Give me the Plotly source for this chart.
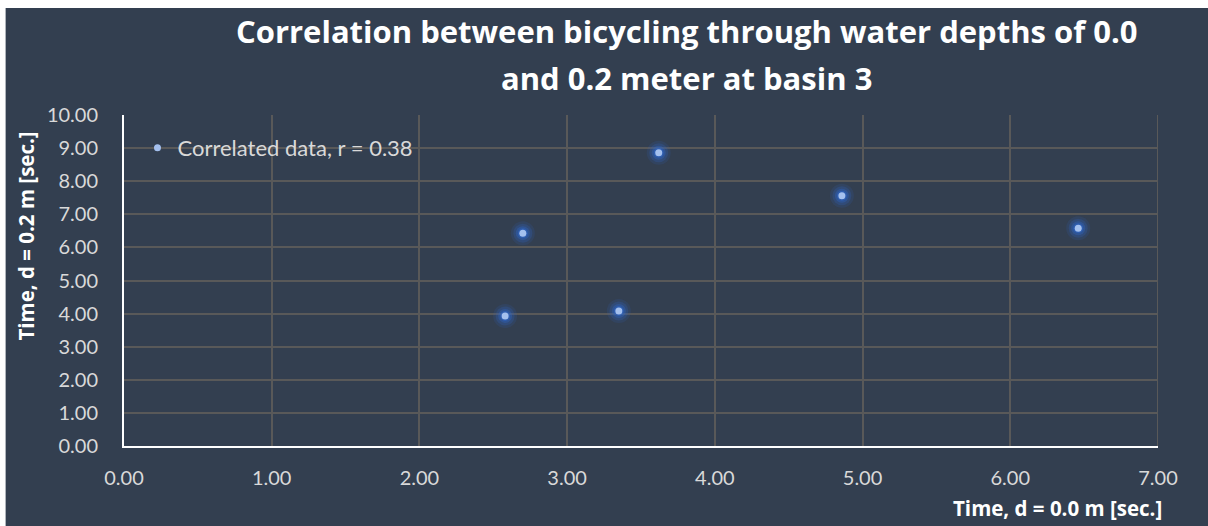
import plotly.graph_objects as go

# Ride times through basin 3 at the two water depths (seconds)
time_d00 = [2.58, 2.70, 3.35, 3.62, 4.86, 6.46]
time_d02 = [3.93, 6.43, 4.08, 8.86, 7.56, 6.58]
series_name = "Correlated data, r = 0.38"

x_ticks = [0, 1, 2, 3, 4, 5, 6, 7]
y_ticks = [0, 1, 2, 3, 4, 5, 6, 7, 8, 9, 10]

title_lines = [
    "Correlation between bicycling through water depths of 0.0",
    "and 0.2 meter at basin 3",
]

W_PX, H_PX = 1208, 526
M_L, M_R, M_T, M_B = 123.5, 49.5, 115, 80
PW = W_PX - M_L - M_R
PH = H_PX - M_T - M_B

BG = "#333F50"
GRID = "#595959"
TICK = "#D9D9D9"
FONT = "Lato"
BOLD = "Open Sans"


def px_x(px):
    return (px - M_L) / PW


def px_y(py):
    return (H_PX - M_B - py) / PH


fig = go.Figure()

# soft blue halo under each point
for size, alpha in [(24, 0.14), (19, 0.22), (14, 0.35), (10, 0.55)]:
    fig.add_trace(go.Scatter(
        x=time_d00, y=time_d02, mode="markers", showlegend=False,
        hoverinfo="skip",
        marker=dict(size=size, color="#2F66C8", opacity=alpha, line=dict(width=0)),
    ))

fig.add_trace(go.Scatter(
    x=time_d00, y=time_d02, mode="markers", name=series_name,
    marker=dict(size=7, color="#A4C0EE", line=dict(width=0)),
))

fig.update_layout(
    width=W_PX, height=H_PX,
    margin=dict(l=M_L, r=M_R, t=M_T, b=M_B, pad=0),
    paper_bgcolor=BG, plot_bgcolor=BG,
    font=dict(family=FONT, color=TICK, size=20),
    showlegend=True,
    legend=dict(
        x=px_x(137), xanchor="left", y=px_y(127), yanchor="top",
        bgcolor="rgba(0,0,0,0)", borderwidth=0,
        font=dict(family=FONT, size=22, color=TICK),
        itemwidth=30,
    ),
    xaxis=dict(
        range=[0, 7], tickvals=x_ticks, tickformat=".2f",
        showgrid=True, gridcolor=GRID, gridwidth=2,
        zeroline=False, showline=True, linecolor="white", linewidth=2,
        ticks="outside", ticklen=13, tickcolor="rgba(0,0,0,0)",
        tickfont=dict(family=FONT, size=20, color=TICK),
    ),
    yaxis=dict(
        range=[0, 10], tickvals=y_ticks, tickformat=".2f",
        showgrid=True, gridcolor=GRID, gridwidth=2,
        zeroline=False, showline=True, linecolor="white", linewidth=2,
        ticks="outside", ticklen=20, tickcolor="rgba(0,0,0,0)",
        tickfont=dict(family=FONT, size=20, color=TICK),
    ),
)

# the right-hand grid edge at x = 7
fig.add_shape(type="line", xref="x", yref="paper", x0=7, x1=7, y0=0, y1=1,
              line=dict(color=GRID, width=2), layer="below")

# thin white frame strips along the top and left of the page
fig.add_shape(type="rect", xref="paper", yref="paper",
              x0=px_x(-2), x1=px_x(W_PX + 2), y0=px_y(8), y1=px_y(-2),
              fillcolor="white", line=dict(width=0), layer="above")
fig.add_shape(type="rect", xref="paper", yref="paper",
              x0=px_x(-2), x1=px_x(5), y0=px_y(H_PX + 2), y1=px_y(-2),
              fillcolor="white", line=dict(width=0), layer="above")

# two-line chart title
for line, cy in zip(title_lines, [31, 78]):
    fig.add_annotation(
        text=line, xref="paper", yref="paper",
        x=px_x(687), xanchor="center", y=px_y(cy), yanchor="middle",
        showarrow=False,
        font=dict(family=BOLD, size=31, color="white", weight="bold"),
    )

# axis titles
fig.add_annotation(
    text="Time, d = 0.0 m [sec.]", xref="paper", yref="paper",
    x=px_x(1165), xanchor="right", y=px_y(508), yanchor="middle",
    showarrow=False, font=dict(family=BOLD, size=20.5, color="white", weight="bold"),
)
fig.add_annotation(
    text="Time, d = 0.2 m [sec.]", xref="paper", yref="paper",
    x=px_x(25), xanchor="center", y=px_y(236), yanchor="middle",
    textangle=-90, showarrow=False,
    font=dict(family=BOLD, size=20.5, color="white", weight="bold"),
)

fig.write_html("out.html")
